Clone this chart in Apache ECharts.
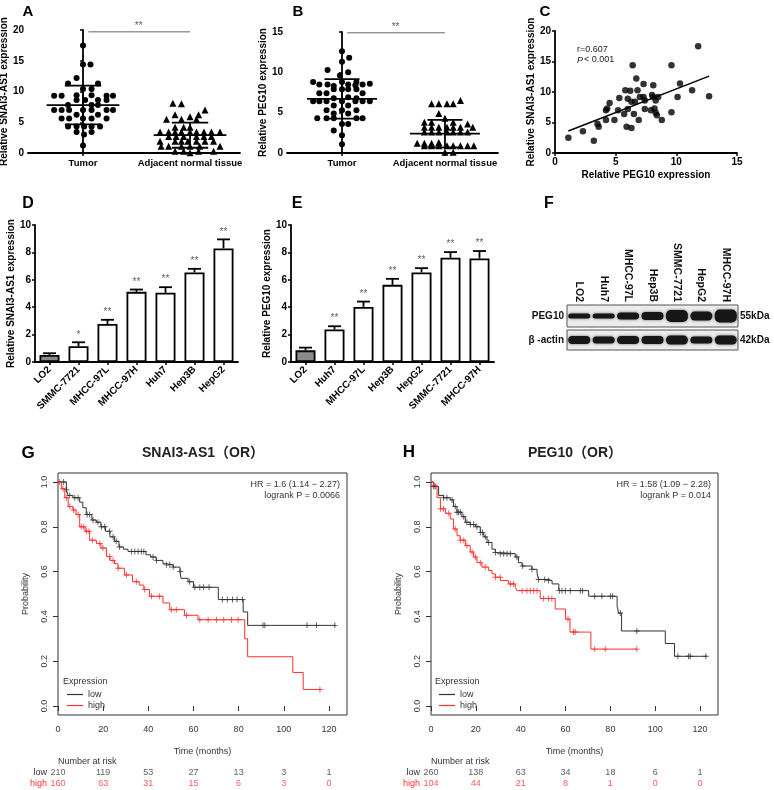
<!DOCTYPE html>
<html><head><meta charset="utf-8">
<script src="https://cdn.jsdelivr.net/npm/echarts@6/dist/echarts.min.js"></script>
<style>html,body{margin:0;padding:0;background:#fff}#c{width:774px;height:790px}</style>
</head><body><div id="c"></div>
<script>
const FONT = 'Liberation Sans, Arial, Noto Sans CJK SC, sans-serif';

// ---------- Panel A ----------
const groupLabels = ['Tumor', 'Adjacent normal tissue'];
const aTumor = [[0,17.5],[0,14.4],[0.07,14.4],[-0.06,12.2],[-0.14,11.3],[0.14,11.3],[0,10.4],[0.08,10.4],
 [-0.27,9.3],[-0.2,9.3],[-0.06,9.4],[0.08,9.4],[0.22,9.3],[0.28,9.3],
 [-0.06,8.6],[0.02,8.6],[0.14,8.6],[0.22,8.6],[-0.14,7.8],[0.08,7.8],[0.14,7.8],
 [-0.27,7.0],[-0.2,7.0],[-0.13,7.0],[0,7.0],[0.08,7.0],[0.22,7.0],[0.28,7.0],
 [-0.06,6.2],[0.14,6.2],[-0.2,5.6],[-0.13,5.6],[0,5.6],[0.08,5.6],[0.22,5.6],
 [-0.14,4.3],[-0.06,4.3],[0.01,4.3],[0.08,4.3],[0.16,4.3],[-0.06,3.4],[0.08,3.4],[0.01,3.0],[0,1.2]];
const aAdjacent = [[-0.16,8.1],[-0.08,8.0],[0.14,7.0],[-0.14,6.2],[0.08,6.2],[0,5.9],[-0.22,5.5],[-0.08,5.5],[0.06,5.5],
 [-0.14,4.2],[-0.06,4.2],[0,4.2],
 [-0.28,3.4],[-0.2,3.4],[-0.14,3.4],[-0.08,3.4],[0,3.4],[0.06,3.4],[0.13,3.4],[0.2,3.4],[0.28,3.4],
 [-0.2,2.7],[-0.13,2.7],[-0.06,2.7],[0.06,2.7],[0.13,2.7],[0.2,2.7],
 [-0.28,1.9],[-0.14,1.9],[-0.08,1.9],[-0.02,1.9],[0.06,1.9],[0.14,1.9],[0.22,1.9],
 [-0.27,1.1],[-0.2,1.1],[-0.08,1.1],[0,1.1],[0.09,1.1],[0.28,1.1],
 [-0.14,0.3],[-0.06,0.3],[0.08,0.3],[0.22,0.3],[0,0.05]];
const aMean = [7.8, 2.9];
const aSD = [3.15, 2.05];
const aSig = 19.7;

// ---------- Panel B ----------
const bTumor = [[0,12.6],[0.07,11.8],[0,11.3],[-0.14,10.3],[0.06,10.0],[-0.02,9.6],
 [-0.28,8.8],[0,8.8],[0.14,8.8],[-0.22,8.5],[-0.14,8.5],[0.06,8.5],[0.13,8.4],[0.2,8.5],[0.27,8.6],[-0.08,8.3],
 [-0.08,7.9],[0,7.9],[0.06,7.9],[0.14,7.9],[-0.22,7.4],[-0.15,7.4],[0.2,7.4],
 [-0.08,6.8],[0.06,6.9],[0.14,6.8],[-0.28,6.4],[-0.22,6.4],[-0.15,6.4],[0,6.4],[0.13,6.4],[0.2,6.4],[0.27,6.4],
 [-0.08,5.9],[0.06,5.9],[-0.15,5.3],[0,5.3],[0.14,5.3],[-0.08,4.9],[0.06,4.9],
 [-0.24,4.3],[-0.15,4.3],[-0.08,4.3],[0.14,4.3],[0.2,4.3],[0,3.6],[0.06,3.6],[-0.08,2.8],[0,2.2],[0,1.1]];
const bAdjacent = [[0.15,6.5],[-0.13,6.1],[-0.06,6.1],[0.02,6.1],[0.08,6.1],[-0.06,4.9],[0,4.3],
 [-0.2,3.8],[-0.13,3.8],[0.08,3.8],[0.22,3.6],
 [-0.2,3.2],[-0.13,3.2],[-0.06,3.2],[0.02,3.2],[0.08,3.2],[0.15,3.2],[0.27,3.2],
 [-0.2,2.6],[-0.13,2.6],[-0.06,2.6],[0.02,2.6],[0.08,2.6],[0.15,2.6],[0.22,2.6],
 [-0.27,1.2],[-0.2,1.2],[-0.13,1.2],[-0.06,1.3],
 [-0.2,0.9],[-0.13,0.9],[-0.06,0.9],[0.02,0.9],[0.08,0.9],[0.15,0.9],[0.22,0.9],[0.28,0.9],
 [0,0.1],[0.08,0.1]];
const bMean = [6.7, 2.4];
const bSD = [2.45, 1.7];
const bSig = 14.9;

// ---------- Panel C ----------
const cPoints = [[1.1,2.5],[2.3,3.55],[3.2,2.0],[3.5,4.8],[3.6,4.3],[4.2,7.0],[4.3,7.3],[4.2,5.4],[4.5,8.2],
 [4.9,5.4],[5.2,7.0],[5.3,9.0],[5.8,10.3],[5.7,6.4],[5.9,4.3],[6.0,8.9],[6.0,7.2],[6.2,10.2],[6.3,8.4],
 [6.3,4.1],[6.4,14.4],[6.5,6.4],[6.6,8.4],[6.7,12.2],[6.8,10.3],[6.9,5.4],[7.0,9.2],[7.3,11.3],[7.3,9.2],
 [7.4,7.2],[7.4,8.6],[7.9,7.0],[8.0,9.5],[8.1,11.1],[8.1,9.2],[8.2,7.3],[8.3,8.6],[8.3,6.6],[8.4,6.2],
 [8.5,9.2],[8.8,5.4],[9.6,14.4],[9.6,6.7],[10.1,9.2],[10.3,11.4],[11.3,10.3],[11.8,17.5],[12.7,9.3]];
const cFit = [[1.1,3.6],[12.7,12.6]];
const cStats = ['r=0.607', 'P', '< 0.001'];

// ---------- Panel D ----------
const dCells = ['LO2','SMMC-7721','MHCC-97L','MHCC-97H','Huh7','Hep3B','HepG2'];
const dVals = [0.52,1.15,2.78,5.12,5.05,6.54,8.29];
const dErr = [0.12,0.29,0.3,0.17,0.41,0.26,0.66];
const dSig = ['','*','**','**','**','**','**'];

// ---------- Panel E ----------
const eCells = ['LO2','Huh7','MHCC-97L','Hep3B','HepG2','SMMC-7721','MHCC-97H'];
const eVals = [0.85,2.37,4.02,5.63,6.54,7.61,7.56];
const eErr = [0.2,0.24,0.39,0.44,0.31,0.41,0.54];
const eSig = ['','**','**','**','**','**','**'];

// ---------- Panel F (western blot band thickness, px) ----------
const fLanes = ['LO2','Huh7','MHCC-97L','Hep3B','SMMC-7721','HepG2','MHCC-97H'];
const fPeg10Band = [5,5,7,8,12,9,13];
const fActinBand = [8,7,8,8,9,7,9];

// ---------- Panels G / H (Kaplan-Meier) ----------
const kmTicks = [0,20,40,60,80,100,120];
const gLow = [[0,1],[3.7,0.965],[4.5,0.94],[6.6,0.93],[9.6,0.91],[11,0.885],[12.5,0.855],[15,0.83],[17,0.82],[19,0.80],
 [21,0.78],[23,0.755],[25,0.735],[27,0.71],[29,0.70],[31,0.69],[39,0.675],[41,0.665],[43.5,0.65],[46.5,0.635],[48,0.63],
 [51,0.62],[54,0.60],[54.5,0.57],[57.6,0.555],[60,0.53],[71,0.475],[82,0.42],[84,0.36],[123,0.36]];
const gHigh = [[0,1],[1.5,0.97],[3,0.93],[4.5,0.89],[6.6,0.875],[8,0.855],[9.6,0.80],[12,0.78],[14,0.74],[17,0.725],
 [19,0.705],[21.5,0.667],[23,0.65],[25,0.635],[26.6,0.615],[29.5,0.585],[33,0.555],[36,0.54],[38,0.52],[40.5,0.49],
 [46.5,0.46],[49.5,0.43],[56,0.405],[62,0.385],[82.7,0.30],[84,0.22],[104,0.15],[108.6,0.074],[116.7,0.074]];
const gLowCensor = [2.5,3.7,5.2,7.4,8.9,12.9,14,15.5,17.7,19.2,20.7,22.9,24.4,25.8,27.3,32.5,34,35.5,36.9,38,42.1,43.6,
 48,49.5,51,54.2,58.3,60.6,62.8,64.5,66.9,72.8,75,77.3,79.3,81.7,90.8,91.6,110.3,114.5,122.6];
const gHighCensor = [0.7,2.2,3.7,5.2,6.9,8.9,10.3,11.4,12.6,13.7,15.2,18.5,19.9,22.9,24.4,26.6,30.3,34.7,38.4,41.4,45,
 50.2,52.4,56.9,62.8,66.5,70.2,73.4,76.8,79.8,116];
const gRiskLow = [210,119,53,27,13,3,1];
const gRiskHigh = [160,63,31,15,6,3,0];
const gTitle = 'SNAI3-AS1（OR）';
const gStats = ['HR = 1.6 (1.14 − 2.27)', 'logrank P = 0.0066'];

const hLow = [[0,1],[1.2,0.98],[3.4,0.94],[5.6,0.93],[8.6,0.92],[10,0.89],[11.6,0.865],[13.8,0.845],[15.3,0.82],[17.5,0.81],
 [19.8,0.80],[22,0.775],[23.5,0.755],[25,0.73],[27.2,0.70],[28.7,0.685],[30,0.68],[37.6,0.665],[39,0.64],[40.6,0.625],
 [45,0.61],[47.3,0.59],[48,0.565],[52.4,0.56],[54,0.545],[57,0.515],[70.3,0.49],[83,0.445],[83.7,0.415],[85,0.335],
 [104.5,0.279],[108.6,0.222],[123,0.222]];
const hHigh = [[0,1],[1.2,0.985],[2.7,0.93],[4.2,0.88],[6.4,0.86],[8.6,0.835],[10,0.79],[11.6,0.76],[13,0.74],[15.3,0.716],
 [17.5,0.687],[19,0.665],[20.5,0.64],[22.7,0.62],[25.7,0.605],[27.2,0.59],[28.7,0.575],[31,0.56],[34.6,0.545],[37.6,0.53],
 [38.3,0.515],[48.7,0.48],[55.4,0.433],[60,0.388],[62,0.33],[71.3,0.254],[92,0.254]];
const hLowCensor = [1.2,1.9,5.6,7.1,9.4,10.8,11.6,12.3,13.1,14.6,16,17.5,19,20.5,22,23,24.2,25.7,28.7,30.9,32.4,33.9,35.4,
 38.3,40.9,45,48,50.7,52.4,57.2,58.4,59.9,62.1,66.6,67.6,73,76.2,80,81,84.4,91.8,110.1,114.9,115.6,122.6];
const hHighCensor = [1.2,4.2,5.6,7.9,10.8,13.1,14.6,16,18.3,19.8,22,24.2,28.7,30.9,35.4,36.8,40.6,42.8,44.3,45.8,47.3,
 50.2,52.4,53.9,61.1,63.6,64.3,73,77.7,91.8];
const hRiskLow = [260,138,63,34,18,6,1];
const hRiskHigh = [104,44,21,8,1,0,0];
const hTitle = 'PEG10（OR）';
const hStats = ['HR = 1.58 (1.09 − 2.28)', 'logrank P = 0.014'];

// ---------- helpers ----------
const BLACK = '#000', KMC = '#333', RED = '#ff3030';
const CROSS = 'path://M0,4.2H10V5.8H0Z M4.2,0H5.8V10H4.2Z';
function onCurve(curve, times){ return times.map(t => { let s = curve[0][1]; for (const p of curve){ if (p[0] <= t) s = p[1]; } return [t, s]; }); }
function lbl(extra){ return Object.assign({fontFamily:FONT,fontWeight:'bold',fontSize:10,color:BLACK}, extra||{}); }
function prismY(gi, max, interval, name, nameGap){
  return {type:'value', gridIndex:gi, min:0, max, interval, name, nameLocation:'middle', nameGap,
    nameTextStyle:lbl(), axisLine:{show:true,lineStyle:{color:BLACK,width:1.8}},
    axisTick:{show:true,length:3,lineStyle:{color:BLACK,width:1.5}}, axisLabel:lbl({margin:4}), splitLine:{show:false}};
}
function groupX(gi, min, max){
  return {type:'value', gridIndex:gi, min, max,
    axisLine:{show:true,onZero:false,lineStyle:{color:BLACK,width:1.8}},
    axisTick:{show:true,length:3,customValues:[0,1],lineStyle:{color:BLACK,width:1.5}},
    axisLabel:lbl({fontSize:9.5,margin:6,customValues:[0,1],formatter:v=>groupLabels[Math.round(v)]||''}), splitLine:{show:false}};
}
function catX(gi, cats){
  return {type:'category', gridIndex:gi, data:cats, axisLine:{show:true,lineStyle:{color:BLACK,width:1.8}},
    axisTick:{show:true,alignWithLabel:true,length:3,lineStyle:{color:BLACK,width:1.5}},
    axisLabel:lbl({rotate:45,margin:6,interval:0}), splitLine:{show:false}};
}
function kmX(gi){
  return {type:'value', gridIndex:gi, min:0, max:128, name:'Time (months)', nameLocation:'middle', nameGap:32,
    nameTextStyle:{fontFamily:FONT,fontSize:9,color:KMC},
    axisLine:{show:false}, axisTick:{show:true,length:5,customValues:kmTicks,lineStyle:{color:KMC,width:1}},
    axisLabel:{fontFamily:FONT,fontSize:9,color:KMC,margin:10,customValues:kmTicks,formatter:v=>(v%20===0&&v<=120)?String(v):''},
    splitLine:{show:false}};
}
function kmY(gi){
  const vals=[0,0.2,0.4,0.6,0.8,1];
  return {type:'value', gridIndex:gi, min:-0.04, max:1.04, name:'Probability', nameLocation:'middle', nameGap:28,
    nameTextStyle:{fontFamily:FONT,fontSize:9,color:KMC},
    axisLine:{show:false}, axisTick:{show:true,length:5,customValues:vals,lineStyle:{color:KMC,width:1}},
    axisLabel:{fontFamily:FONT,fontSize:9,color:KMC,rotate:90,margin:9,customValues:vals,formatter:v=>v.toFixed(1)},
    splitLine:{show:false}};
}
function meanSdItem(params, api){
  const x=api.value(0), m=api.value(1), s=api.value(2);
  const c=api.coord([x,m]), t=api.coord([x,m+s]), b=api.coord([x,m-s]);
  const hw=api.size([0.34,0])[0], cw=api.size([0.17,0])[0];
  const L=(x1,y1,x2,y2)=>({type:'line',shape:{x1,y1,x2,y2},style:{stroke:BLACK,lineWidth:1.8}});
  return {type:'group',children:[L(c[0]-hw,c[1],c[0]+hw,c[1]),L(c[0],t[1],c[0],b[1]),L(c[0]-cw,t[1],c[0]+cw,t[1]),L(c[0]-cw,b[1],c[0]+cw,b[1])]};
}
function errItem(params, api){
  const i=api.value(0), v=api.value(1), e=api.value(2);
  const b=api.coord([i,v]), t=api.coord([i,v+e]);
  const L=(x1,y1,x2,y2)=>({type:'line',shape:{x1,y1,x2,y2},style:{stroke:BLACK,lineWidth:1.8}});
  return {type:'group',children:[L(b[0],b[1],t[0],t[1]),L(t[0]-6.5,t[1],t[0]+6.5,t[1])]};
}
function bandItem(params, api){
  const i=api.value(0), h=api.value(2);
  const c=api.coord([i,0]); const w=api.size([1,0])[0]*0.9;
  return {type:'rect',shape:{x:c[0]-w/2,y:c[1]-h/2,width:w,height:h,r:Math.min(h/2,5)},
    style:{fill:'#161616',shadowBlur:3,shadowColor:'rgba(0,0,0,0.55)'}};
}
function txt(x,y,text,opt){
  opt=opt||{};
  const st={text,x:0,y:0,fill:opt.color||BLACK,fontFamily:FONT,fontSize:opt.size||9,fontWeight:opt.bold?'bold':'normal',
    fontStyle:opt.italic?'italic':'normal',align:opt.align||'left',verticalAlign:'middle',textAlign:opt.align||'left',textVerticalAlign:'middle'};
  return {type:'text',x,y,style:st,silent:true};
}

const grids = [
  {left:28,top:30,width:212,height:123},   // 0 A
  {left:287,top:32,width:211,height:121},  // 1 B
  {left:555,top:31,width:182,height:122},  // 2 C
  {left:35,top:225,width:203,height:137},  // 3 D
  {left:291,top:225,width:203,height:137}, // 4 E
  {left:567,top:305,width:171,height:22,show:true,backgroundColor:'#ececec',borderColor:'#555',borderWidth:1}, // 5 F1
  {left:567,top:330,width:171,height:20,show:true,backgroundColor:'#ececec',borderColor:'#555',borderWidth:1}, // 6 F2
  {left:58,top:473,width:289,height:242,show:true,borderColor:KMC,borderWidth:1}, // 7 G
  {left:58,top:767,width:289,height:22},   // 8 G risk
  {left:431,top:473,width:287,height:242,show:true,borderColor:KMC,borderWidth:1}, // 9 H
  {left:431,top:767,width:287,height:22}   // 10 H risk
].map(g=>Object.assign({outerBoundsMode:'none',containLabel:false},g));

const hiddenX = (gi,min,max)=>({type:'value',gridIndex:gi,min,max,show:false});
const riskY = gi => ({type:'category',gridIndex:gi,data:['high','low'],axisLine:{show:false},axisTick:{show:false},
  axisLabel:{fontFamily:FONT,fontSize:9,margin:11,interval:0,hideOverlap:false,color:(v)=>v==='high'?RED:KMC}});
const blotY = (gi,name,pos)=>({type:'category',gridIndex:gi,data:[name],position:pos,axisLine:{show:false},axisTick:{show:false},
  axisLabel:lbl({margin:pos==='left'?3:2,color:'#111'})});

const xAxis = [
  groupX(0,-0.514,1.467),                 // 0
  groupX(1,-0.534,1.515),                 // 1
  {type:'value',gridIndex:2,min:0,max:15,interval:5,name:'Relative PEG10 expression',nameLocation:'middle',nameGap:17,
    nameTextStyle:lbl(),axisLine:{show:true,onZero:false,lineStyle:{color:BLACK,width:1.8}},
    axisTick:{show:true,length:3,lineStyle:{color:BLACK,width:1.5}},axisLabel:lbl({margin:4}),splitLine:{show:false}}, // 2
  catX(3,dCells),                          // 3
  catX(4,eCells),                          // 4
  {type:'category',gridIndex:5,data:fLanes,position:'top',axisLine:{show:false},axisTick:{show:false},
    axisLabel:lbl({rotate:90,margin:3,interval:0,color:'#111',fontSize:10.5})}, // 5
  {type:'category',gridIndex:6,data:fLanes,show:false},           // 6
  kmX(7),                                  // 7
  hiddenX(8,0,128),                        // 8
  kmX(9),                                  // 9
  hiddenX(10,0,128)                        // 10
];
const yAxis = [
  prismY(0,20,5,'Relative SNAI3-AS1 expression',15),
  prismY(1,15,5,'Relative PEG10 expression',17),
  prismY(2,20,5,'Relative SNAI3-AS1 expression',15),
  prismY(3,10,2,'Relative SNAI3-AS1 expression',17),
  prismY(4,10,2,'Relative PEG10 expression',17),
  blotY(5,'PEG10','left'), blotY(5,'55kDa','right'),
  blotY(6,'β -actin','left'), blotY(6,'42kDa','right'),
  kmY(7), riskY(8), kmY(9), riskY(10)
];

function groupScatter(xi, yi, pts, idx, symbol, size){
  return {type:'scatter',xAxisIndex:xi,yAxisIndex:yi,symbol,symbolSize:size,itemStyle:{color:BLACK,opacity:1},
    data:pts.map(p=>[idx+p[0],p[1]]),z:3};
}
function sigSeries(xi, yi, level){
  return [
    {type:'line',xAxisIndex:xi,yAxisIndex:yi,data:[[0.05,level],[1,level]],symbol:'none',lineStyle:{color:'#666',width:1},z:2},
    {type:'scatter',xAxisIndex:xi,yAxisIndex:yi,data:[[0.52,level]],symbolSize:1,itemStyle:{color:'transparent'},
      label:{show:true,position:'top',distance:0,formatter:'**',fontFamily:FONT,fontSize:10,color:'#333'}}
  ];
}
function barSet(xi, yi, vals, errs, sigs){
  return [
    {type:'bar',xAxisIndex:xi,yAxisIndex:yi,barWidth:20,
      data:vals.map((v,i)=>i===0?{value:v,itemStyle:{color:'#8a8a8a'}}:v),
      itemStyle:{color:'#fff',borderColor:BLACK,borderWidth:1.8},z:2},
    {type:'custom',xAxisIndex:xi,yAxisIndex:yi,renderItem:errItem,data:vals.map((v,i)=>[i,v,errs[i]]),z:3},
    {type:'scatter',xAxisIndex:xi,yAxisIndex:yi,symbolSize:1,itemStyle:{color:'transparent'},
      data:vals.map((v,i)=>[i,v+errs[i],sigs[i]]),
      label:{show:true,position:'top',distance:2,formatter:p=>p.value[2],fontFamily:FONT,fontSize:10,color:'#333'}}
  ];
}
function kmSet(xi, yi, rxi, ryi, low, high, lowC, highC, riskLow, riskHigh){
  return [
    {name:'low',type:'line',xAxisIndex:xi,yAxisIndex:yi,data:low,step:'end',symbol:'none',showSymbol:false,color:KMC,lineStyle:{color:KMC,width:1}},
    {name:'high',type:'line',xAxisIndex:xi,yAxisIndex:yi,data:high,step:'end',symbol:'none',showSymbol:false,color:RED,lineStyle:{color:RED,width:1}},
    {type:'scatter',xAxisIndex:xi,yAxisIndex:yi,data:onCurve(low,lowC),symbol:CROSS,symbolSize:6,itemStyle:{color:KMC}},
    {type:'scatter',xAxisIndex:xi,yAxisIndex:yi,data:onCurve(high,highC),symbol:CROSS,symbolSize:6,itemStyle:{color:RED}},
    {type:'scatter',xAxisIndex:rxi,yAxisIndex:ryi,symbolSize:1,itemStyle:{color:'transparent'},
      data:kmTicks.map((t,i)=>[t,1,riskLow[i]]),
      label:{show:true,position:'inside',formatter:p=>String(p.value[2]),fontFamily:FONT,fontSize:9,color:KMC}},
    {type:'scatter',xAxisIndex:rxi,yAxisIndex:ryi,symbolSize:1,itemStyle:{color:'transparent'},
      data:kmTicks.map((t,i)=>[t,0,riskHigh[i]]),
      label:{show:true,position:'inside',formatter:p=>String(p.value[2]),fontFamily:FONT,fontSize:9,color:RED}}
  ];
}

const series = [
  groupScatter(0,0,aTumor,0,'circle',6),
  groupScatter(0,0,aAdjacent,1,'triangle',7),
  {type:'custom',xAxisIndex:0,yAxisIndex:0,renderItem:meanSdItem,data:aMean.map((m,i)=>[i,m,aSD[i]]),z:4},
  ...sigSeries(0,0,aSig),
  groupScatter(1,1,bTumor,0,'circle',6),
  groupScatter(1,1,bAdjacent,1,'triangle',7),
  {type:'custom',xAxisIndex:1,yAxisIndex:1,renderItem:meanSdItem,data:bMean.map((m,i)=>[i,m,bSD[i]]),z:4},
  ...sigSeries(1,1,bSig),
  {type:'scatter',xAxisIndex:2,yAxisIndex:2,data:cPoints,symbolSize:6.5,itemStyle:{color:BLACK}},
  {type:'line',xAxisIndex:2,yAxisIndex:2,data:cFit,symbol:'none',lineStyle:{color:BLACK,width:1.5}},
  ...barSet(3,3,dVals,dErr,dSig),
  ...barSet(4,4,eVals,eErr,eSig),
  {type:'custom',xAxisIndex:5,yAxisIndex:5,renderItem:bandItem,data:fPeg10Band.map((h,i)=>[i,0,h]),encode:{x:0,y:1}},
  {type:'custom',xAxisIndex:6,yAxisIndex:7,renderItem:bandItem,data:fActinBand.map((h,i)=>[i,0,h]),encode:{x:0,y:1}},
  ...kmSet(7,9,8,10,gLow,gHigh,gLowCensor,gHighCensor,gRiskLow,gRiskHigh),
  ...kmSet(9,11,10,12,hLow,hHigh,hLowCensor,hHighCensor,hRiskLow,hRiskHigh)
];

const legendBase = {orient:'vertical',data:[{name:'low',icon:'rect'},{name:'high',icon:'rect'}],
  itemWidth:16,itemHeight:1.2,itemGap:0,padding:0,selectedMode:false,
  textStyle:{fontFamily:FONT,fontSize:9,color:KMC,lineHeight:11}};

const graphic = [
  txt(28,12,'A',{bold:true,size:15,align:'center'}),
  txt(298,12,'B',{bold:true,size:15,align:'center'}),
  txt(545,12,'C',{bold:true,size:15,align:'center'}),
  txt(28,204,'D',{bold:true,size:16,align:'center'}),
  txt(297,204,'E',{bold:true,size:16,align:'center'}),
  txt(549,204,'F',{bold:true,size:16,align:'center'}),
  txt(28,453,'G',{bold:true,size:17,align:'center'}),
  txt(409,452,'H',{bold:true,size:17,align:'center'}),
  txt(577,50,cStats[0],{size:9,color:'#222'}),
  txt(577,60,cStats[1],{size:9,italic:true,color:'#222'}),
  txt(584,60,cStats[2],{size:9,color:'#222'}),
  txt(203,453,gTitle,{bold:true,size:14,align:'center',color:'#222'}),
  txt(575,453,hTitle,{bold:true,size:14,align:'center',color:'#222'}),
  txt(340,485,gStats[0],{align:'right',color:KMC}),
  txt(340,496,gStats[1],{align:'right',color:KMC}),
  txt(711,485,hStats[0],{align:'right',color:KMC}),
  txt(711,496,hStats[1],{align:'right',color:KMC}),
  txt(63,682,'Expression',{color:KMC}),
  txt(435,682,'Expression',{color:KMC}),
  txt(58,762,'Number at risk',{color:KMC}),
  txt(431,762,'Number at risk',{color:KMC})
];

const chart = echarts.init(document.getElementById('c'), null, {renderer:'canvas'});
chart.setOption({
  animation:false, backgroundColor:'#fff',
  textStyle:{fontFamily:FONT},
  grid:grids, xAxis, yAxis, series,
  legend:[Object.assign({left:67,top:689},legendBase), Object.assign({left:439,top:689},legendBase)],
  graphic
});
</script></body></html>
